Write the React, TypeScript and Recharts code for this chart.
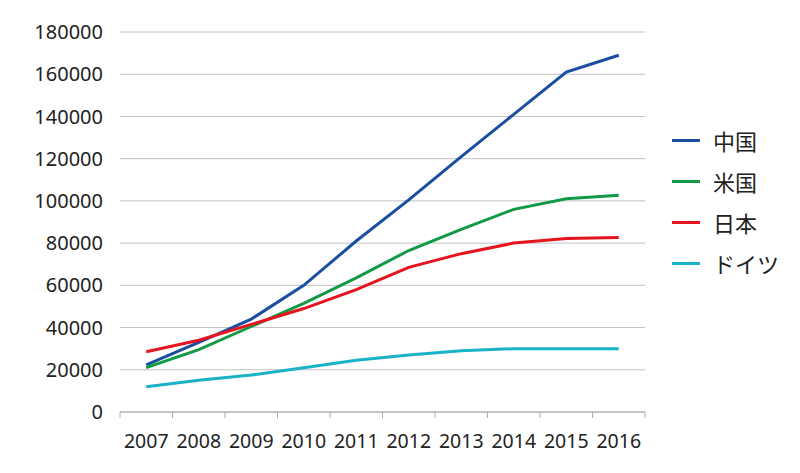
import React from "react";
import { CartesianGrid, Legend, Line, LineChart, XAxis, YAxis } from "recharts";

const years = ["2007", "2008", "2009", "2010", "2011", "2012", "2013", "2014", "2015", "2016"];
const china = [22300, 33000, 44000, 60000, 81000, 100500, 121000, 141000, 161000, 169000];
const usa = [21000, 29500, 40500, 51500, 63500, 76500, 86500, 96000, 101000, 102700];
const japan = [28500, 34000, 41500, 49000, 58000, 68500, 75000, 80000, 82200, 82700];
const germany = [12000, 15000, 17500, 21000, 24500, 27000, 29000, 30000, 30000, 30000];
const seriesNames = ["中国", "米国", "日本", "ドイツ"];

const yTicks = [0, 20000, 40000, 60000, 80000, 100000, 120000, 140000, 160000, 180000];
// category boundaries, where the tick marks sit
const xBounds = [-0.5, 0.5, 1.5, 2.5, 3.5, 4.5, 5.5, 6.5, 7.5, 8.5, 9.5];

const data = years.map((year, i) => ({
  x: i,
  year,
  china: china[i],
  usa: usa[i],
  japan: japan[i],
  germany: germany[i],
}));

const FONT = "'Noto Sans', 'Noto Sans CJK JP', sans-serif";
const HALF_BAND = 26.25;

function YearTick(props: any) {
  const { x, y, index } = props;
  if (index >= years.length) return null;
  return (
    <text
      x={x + HALF_BAND}
      y={y}
      dy="0.71em"
      textAnchor="middle"
      fill="#222"
      fontSize={19.5}
      fontFamily={FONT}
    >
      {years[index]}
    </text>
  );
}

function LegendBox(props: any) {
  const items = [...(props.payload || [])].sort(
    (a: any, b: any) => seriesNames.indexOf(a.value) - seriesNames.indexOf(b.value)
  );
  return (
    <div style={{ fontFamily: "'Noto Sans CJK JP', 'Noto Sans', sans-serif" }}>
      {items.map((p: any) => (
        <div key={p.value} style={{ display: "flex", alignItems: "center", height: 41 }}>
          <div style={{ width: 28, height: 3, background: p.color, marginRight: 13 }} />
          <span style={{ fontSize: 22, color: "#222", lineHeight: "41px" }}>{p.value}</span>
        </div>
      ))}
    </div>
  );
}

export default function App() {
  return (
    <div style={{ position: "absolute", left: 0, top: 0, background: "#fff" }}>
      <LineChart
        width={800}
        height={473}
        data={data}
        margin={{ top: 32, right: 155, bottom: 16, left: 20 }}
      >
        <CartesianGrid vertical={false} stroke="#c0c0c0" strokeWidth={1} />
        <XAxis
          dataKey="x"
          type="number"
          domain={[-0.5, 9.5]}
          ticks={xBounds}
          tick={<YearTick />}
          tickSize={6}
          tickMargin={16}
          height={45}
          stroke="#aaa"
          interval={0}
        />
        <YAxis
          domain={[0, 180000]}
          ticks={yTicks}
          width={100}
          axisLine={false}
          tickLine={false}
          tickMargin={11}
          interval={0}
          tick={{ fill: "#222", fontSize: 20, fontFamily: FONT }}
        />
        <Legend
          layout="vertical"
          align="center"
          verticalAlign="middle"
          wrapperStyle={{ left: 672, top: 120, width: 128 }}
          content={<LegendBox />}
        />
        <Line dataKey="china" name={seriesNames[0]} stroke="#1a4ea0" strokeWidth={3} dot={false} isAnimationActive={false} />
        <Line dataKey="usa" name={seriesNames[1]} stroke="#119a45" strokeWidth={3} dot={false} isAnimationActive={false} />
        <Line dataKey="japan" name={seriesNames[2]} stroke="#e6141e" strokeWidth={3} dot={false} isAnimationActive={false} />
        <Line dataKey="germany" name={seriesNames[3]} stroke="#18b3c6" strokeWidth={3} dot={false} isAnimationActive={false} />
      </LineChart>
    </div>
  );
}
